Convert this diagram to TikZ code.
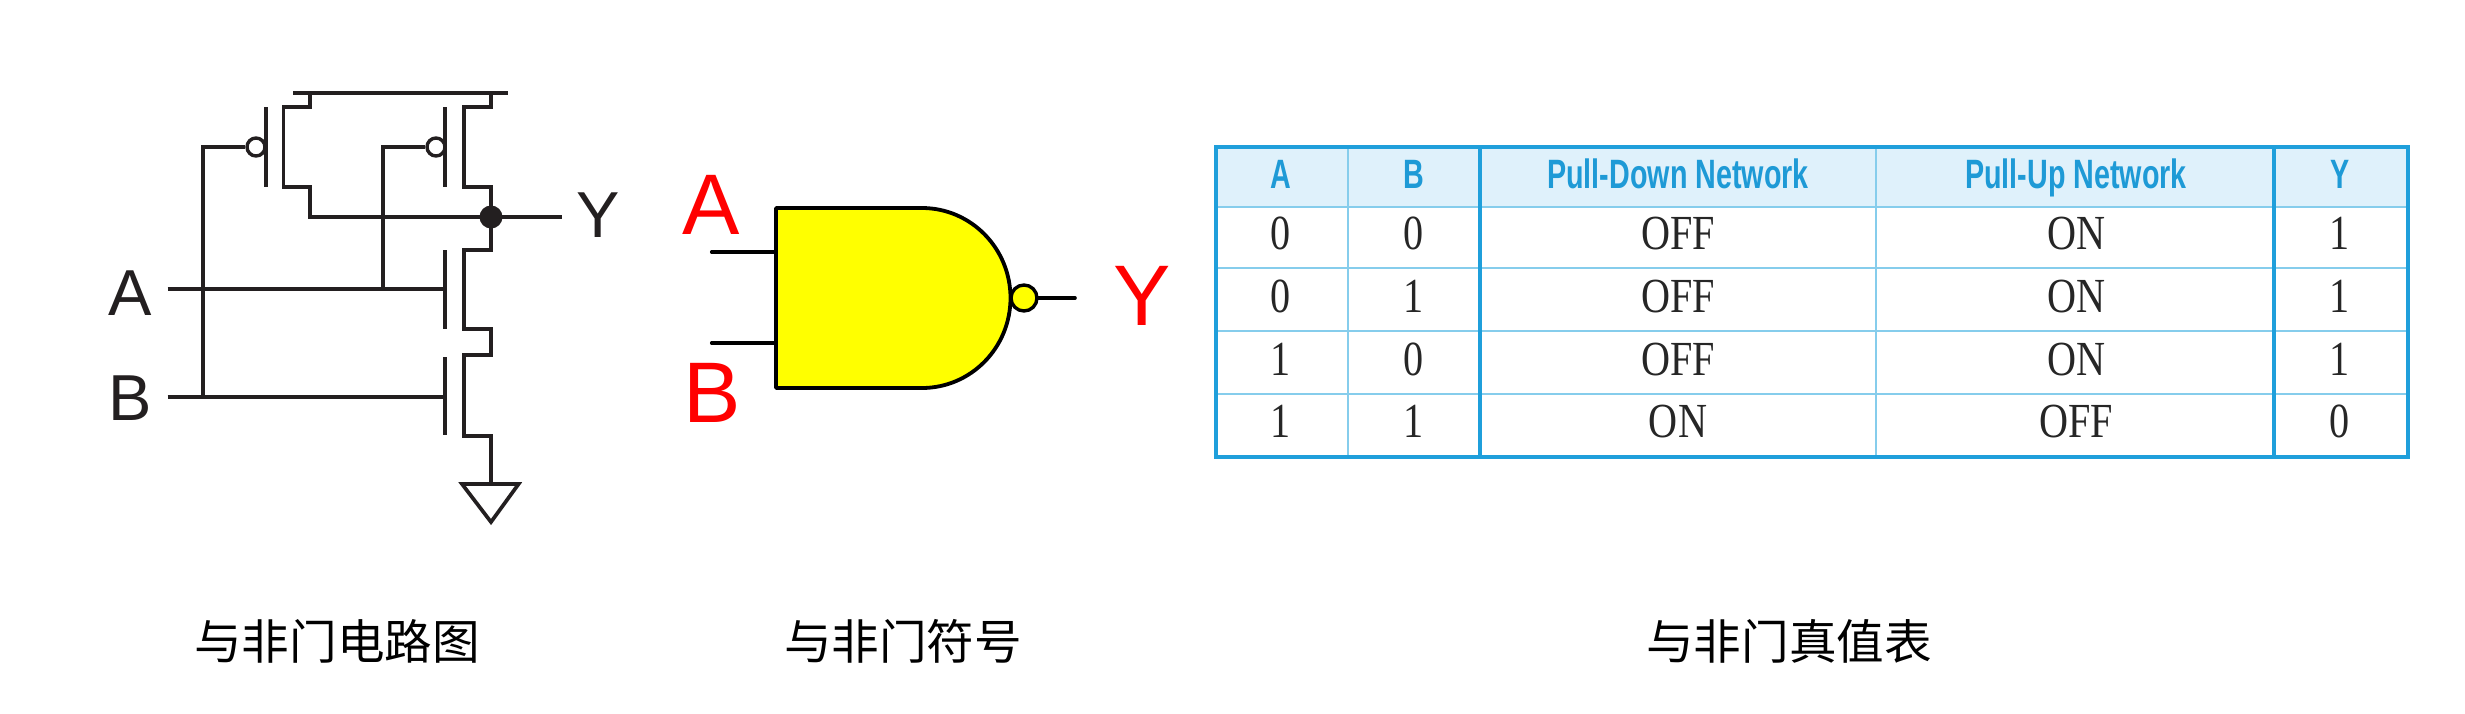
\documentclass[tikz,border=0pt]{standalone}
\usepackage{fontspec}
\setmainfont{Liberation Sans}
\newfontfamily\cjk{Noto Sans CJK SC}
\newfontfamily\hdrfont[FakeStretch=0.70]{Liberation Sans}
\newfontfamily\bodyfont[FakeStretch=0.82]{Liberation Serif}
\definecolor{wirec}{HTML}{231F20}
\definecolor{tblue}{HTML}{1F9FDB}
\definecolor{tthin}{HTML}{86CDEC}
\definecolor{thead}{HTML}{DFF1FB}
\definecolor{hblue}{HTML}{1E9AD6}
\definecolor{gatey}{HTML}{FFFF00}
\definecolor{pinred}{HTML}{FF0000}
\tikzset{
  wire/.style={draw=wirec,line width=1.85pt,line join=miter},
  gatewire/.style={draw=black,line width=1.8pt,line cap=round},
  bubble/.style={circle,draw=wirec,line width=1.7pt,fill=white,inner sep=0pt,minimum size=9pt},
  jdot/.style={circle,fill=wirec,inner sep=0pt,minimum size=11.5pt},
  pinc/.style={anchor=base,inner sep=0pt,text=wirec,font=\fontsize{32.5}{33}\selectfont},
  pinr/.style={anchor=base,inner sep=0pt,text=pinred,font=\fontsize{43}{44}\selectfont},
  captext/.style={anchor=center,inner sep=0pt,text=black,font=\cjk\fontsize{23.8}{24}\selectfont},
  hdr/.style={anchor=base,inner sep=0pt,text=hblue,font=\hdrfont\bfseries\fontsize{20.5}{21}\selectfont},
  tcell/.style={anchor=base,inner sep=0pt,text=black!85,font=\bodyfont\fontsize{24.5}{25}\selectfont},
  thinl/.style={draw=tthin,line width=1pt},
  thickl/.style={draw=tblue,line width=1.8pt},
}
\begin{document}
\begin{tikzpicture}[x=0.5pt,y=-0.5pt]
\useasboundingbox (0,0) rectangle (2465,713);
% ---------- transistor circuit
\coordinate (railL) at (293,93);
\coordinate (railR) at (507.5,93);
\coordinate (s1) at (310,93);
\coordinate (s2) at (491,93);
\coordinate (ain) at (167.5,289);
\coordinate (bin) at (167.5,397);
\coordinate (gn1) at (445,289);
\coordinate (gn2) at (445,397);
\coordinate (jA) at (383,289);
\coordinate (jB) at (203,397);
\coordinate (yend) at (562,217);
\node[jdot] (out) at (491,217) {};
\node[bubble] (b1) at (256,147) {};
\node[bubble] (b2) at (436,147) {};
\draw[wire] (railL) -- (railR);
\draw[wire] (s1) -- (310,107) -- (283.6,107) -- (283.6,187) -- (310,187) -- (310,217) -- (out.center);
\draw[wire] (s2) -- (491,107) -- (464,107) -- (464,187) -- (491,187) -- (out.center);
\draw[wire] (out.center) -- (491,250) -- (464,250) -- (464,329) -- (491,329) -- (491,355) -- (464,355) -- (464,436) -- (491,436) -- (491,484);
\draw[wire] (out.center) -- (yend);
\draw[wire] (265.7,107) -- (265.7,187);
\draw[wire] (445,107) -- (445,187);
\draw[wire] (445,250) -- (445,329);
\draw[wire] (445,357) -- (445,435);
\draw[wire] (ain) -- (gn1);
\draw[wire] (bin) -- (gn2);
\draw[wire] (b1.west) -- (203,147) -- (jB);
\draw[wire] (b2.west) -- (383,147) -- (jA);
\draw[wire,line join=miter] (462,484) -- (518.6,484) -- (491,522) -- cycle;
\node[pinc] (lA) at (130.5,315) {A};
\node[pinc] (lB) at (130,420) {B};
\node[pinc] (lY) at (598.5,237) {Y};
% ---------- gate symbol
\coordinate (gA) at (776,252);
\coordinate (gB) at (776,343);
\coordinate (ga) at (711.7,252);
\coordinate (gb) at (711.7,343);
\coordinate (gy) at (1075,298);
\draw[gatewire] (ga) -- (gA);
\draw[gatewire] (gb) -- (gB);
\node[circle,draw=black,line width=1.7pt,fill=gatey,inner sep=0pt,minimum size=13pt] (gbub) at (1024,298) {};
\draw[gatewire] (gbub.east) -- (gy);
\draw[fill=gatey,draw=black,line width=1.9pt,line join=round]
  (776,208) -- (922,208) .. controls (970.9,208) and (1010.5,248.3) .. (1010.5,298)
  .. controls (1010.5,347.7) and (970.9,388) .. (922,388) -- (776,388) -- cycle;
\node[pinr] (rA) at (711,234) {A};
\node[pinr] (rB) at (712,422) {B};
\node[pinr] (rY) at (1142,325) {Y};
% ---------- truth table
\fill[thead] (1215.5,147) rectangle (2408,207);
\foreach \yy in {207,268,331,394} \draw[thinl] (1215.5,\yy) -- (2408,\yy);
\foreach \xx in {1348,1876} \draw[thinl] (\xx,147) -- (\xx,457);
\foreach \xx in {1480,2274} \draw[thickl] (\xx,147) -- (\xx,457);
\draw[thickl,line width=2pt] (1215.5,147) rectangle (2408,457);
\node[hdr] (hA) at (1281,188) {A};
\node[hdr] (hB) at (1413.5,188) {B};
\node[hdr] (hD) at (1678,188) {Pull-Down Network};
\node[hdr] (hU) at (2076,188) {Pull-Up Network};
\node[hdr] (hY) at (2340,188) {Y};
\foreach \rw/\yy/\aa/\bb/\dd/\uu/\oo in {1/249.5/0/0/OFF/ON/1,2/312/0/1/OFF/ON/1,3/375/1/0/OFF/ON/1,4/437.5/1/1/ON/OFF/0}{
  \node[tcell] (a\rw) at (1281,\yy) {\aa};
  \node[tcell] (b\rw) at (1413.5,\yy) {\bb};
  \node[tcell] (d\rw) at (1678,\yy) {\dd};
  \node[tcell] (u\rw) at (2076,\yy) {\uu};
  \node[tcell] (o\rw) at (2340,\yy) {\oo};
}
% ---------- captions
\node[captext] (c1) at (337,641) {与非门电路图};
\node[captext] (c2) at (903,641) {与非门符号};
\node[captext] (c3) at (1789,641) {与非门真值表};
\end{tikzpicture}
\end{document}
